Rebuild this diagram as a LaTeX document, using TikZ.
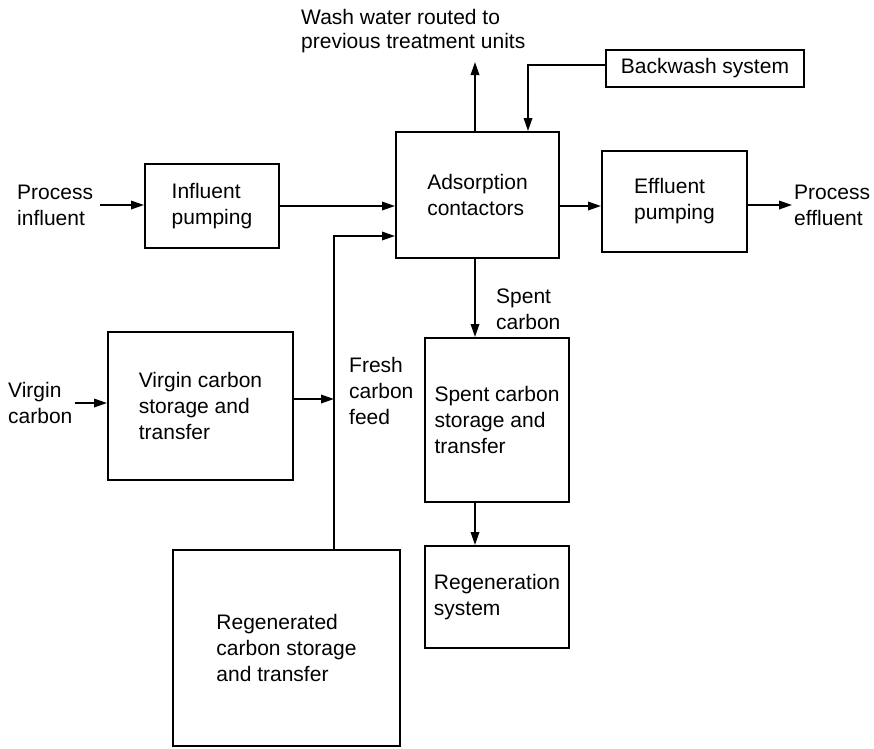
\documentclass[tikz,border=0pt]{standalone}
\usepackage{fontspec}
\setmainfont{Liberation Sans}
\usetikzlibrary{arrows.meta,positioning,calc}

\begin{document}
\begin{tikzpicture}[x=1pt,y=-1pt,
  font=\fontsize{21}{26}\selectfont,
  unit/.style={draw,line width=2pt,align=left,inner sep=0pt},
  lbl/.style={align=left,inner sep=0pt},
  flow/.style={line width=1.8pt,-{Triangle[length=13pt,width=8.5pt]}}]
  \useasboundingbox (0,0) rectangle (874,748);

  % Ligne de traitement
  \node[unit,minimum width=134pt,minimum height=84pt] (infl) at (212,206) {Influent\\pumping};
  \node[unit,minimum width=163pt,minimum height=126pt] (ads) at (477.5,195) {Adsorption\\contactors};
  \node[unit,minimum width=145pt,minimum height=101pt] (eff) at (674.5,201.5) {Effluent\\pumping};
  \node[unit,minimum width=198pt,minimum height=37pt] (bw) at (705,68.5) {Backwash system};

  % Circuit du charbon
  \node[unit,minimum width=185pt,minimum height=148pt] (virg) at (200.5,406) {Virgin carbon\\storage and\\transfer};
  \node[unit,minimum width=144pt,minimum height=164pt] (spent) at (497,420) {Spent carbon\\storage and\\transfer};
  \node[unit,minimum width=144pt,minimum height=102pt] (regen) at (497,597) {Regeneration\\system};
  \node[unit,minimum width=227pt,minimum height=196pt] (regd) at (286.5,647.5) {Regenerated\\carbon storage\\and transfer};

  % Etiquettes
  \node[lbl,anchor=west] (pin) at (17,205) {Process\\influent};
  \node[lbl,anchor=west] (pout) at (794,205) {Process\\effluent};
  \node[lbl,anchor=west] (vin) at (8,403) {Virgin\\carbon};
  \node[lbl,anchor=north west,font=\fontsize{21}{24}\selectfont] (wash) at (301,9) {Wash water routed to\\previous treatment units};
  \node[lbl,anchor=north west] (fresh) at (349,357) {Fresh\\carbon\\feed};
  \node[lbl,anchor=north west] (spl) at (496,289) {Spent\\carbon};

  \coordinate (bend) at (334,236);
  \coordinate (washend) at (475,62);
  \coordinate (bwdrop) at (528,0);

  % Fleches
  \draw[flow,shorten <=7pt] (pin.east) -- (pin.east -| infl.west);
  \draw[flow] (infl.east) -- (infl.east -| ads.west);
  \draw[flow] (ads.east |- infl.east) -- (eff.west |- infl.east);
  \draw[flow,shorten >=2pt] (eff.east |- pout.west) -- (pout.west);
  \draw[flow] (ads.north -| washend) -- (washend);
  \draw[flow] (bw.west |- 0,65) -| (bwdrop |- ads.north);
  \draw[flow,shorten <=2pt] (vin.east) -- (vin.east -| virg.west);
  \draw[flow] ([yshift=7pt]virg.east) -- ([yshift=7pt]virg.east -| bend);
  \draw[flow] (regd.north -| bend) -- (bend) -- (bend -| ads.west);
  \draw[flow] (ads.south -| washend) -- (spent.north -| washend);
  \draw[flow] (spent.south -| washend) -- (regen.north -| washend);
\end{tikzpicture}
\end{document}
